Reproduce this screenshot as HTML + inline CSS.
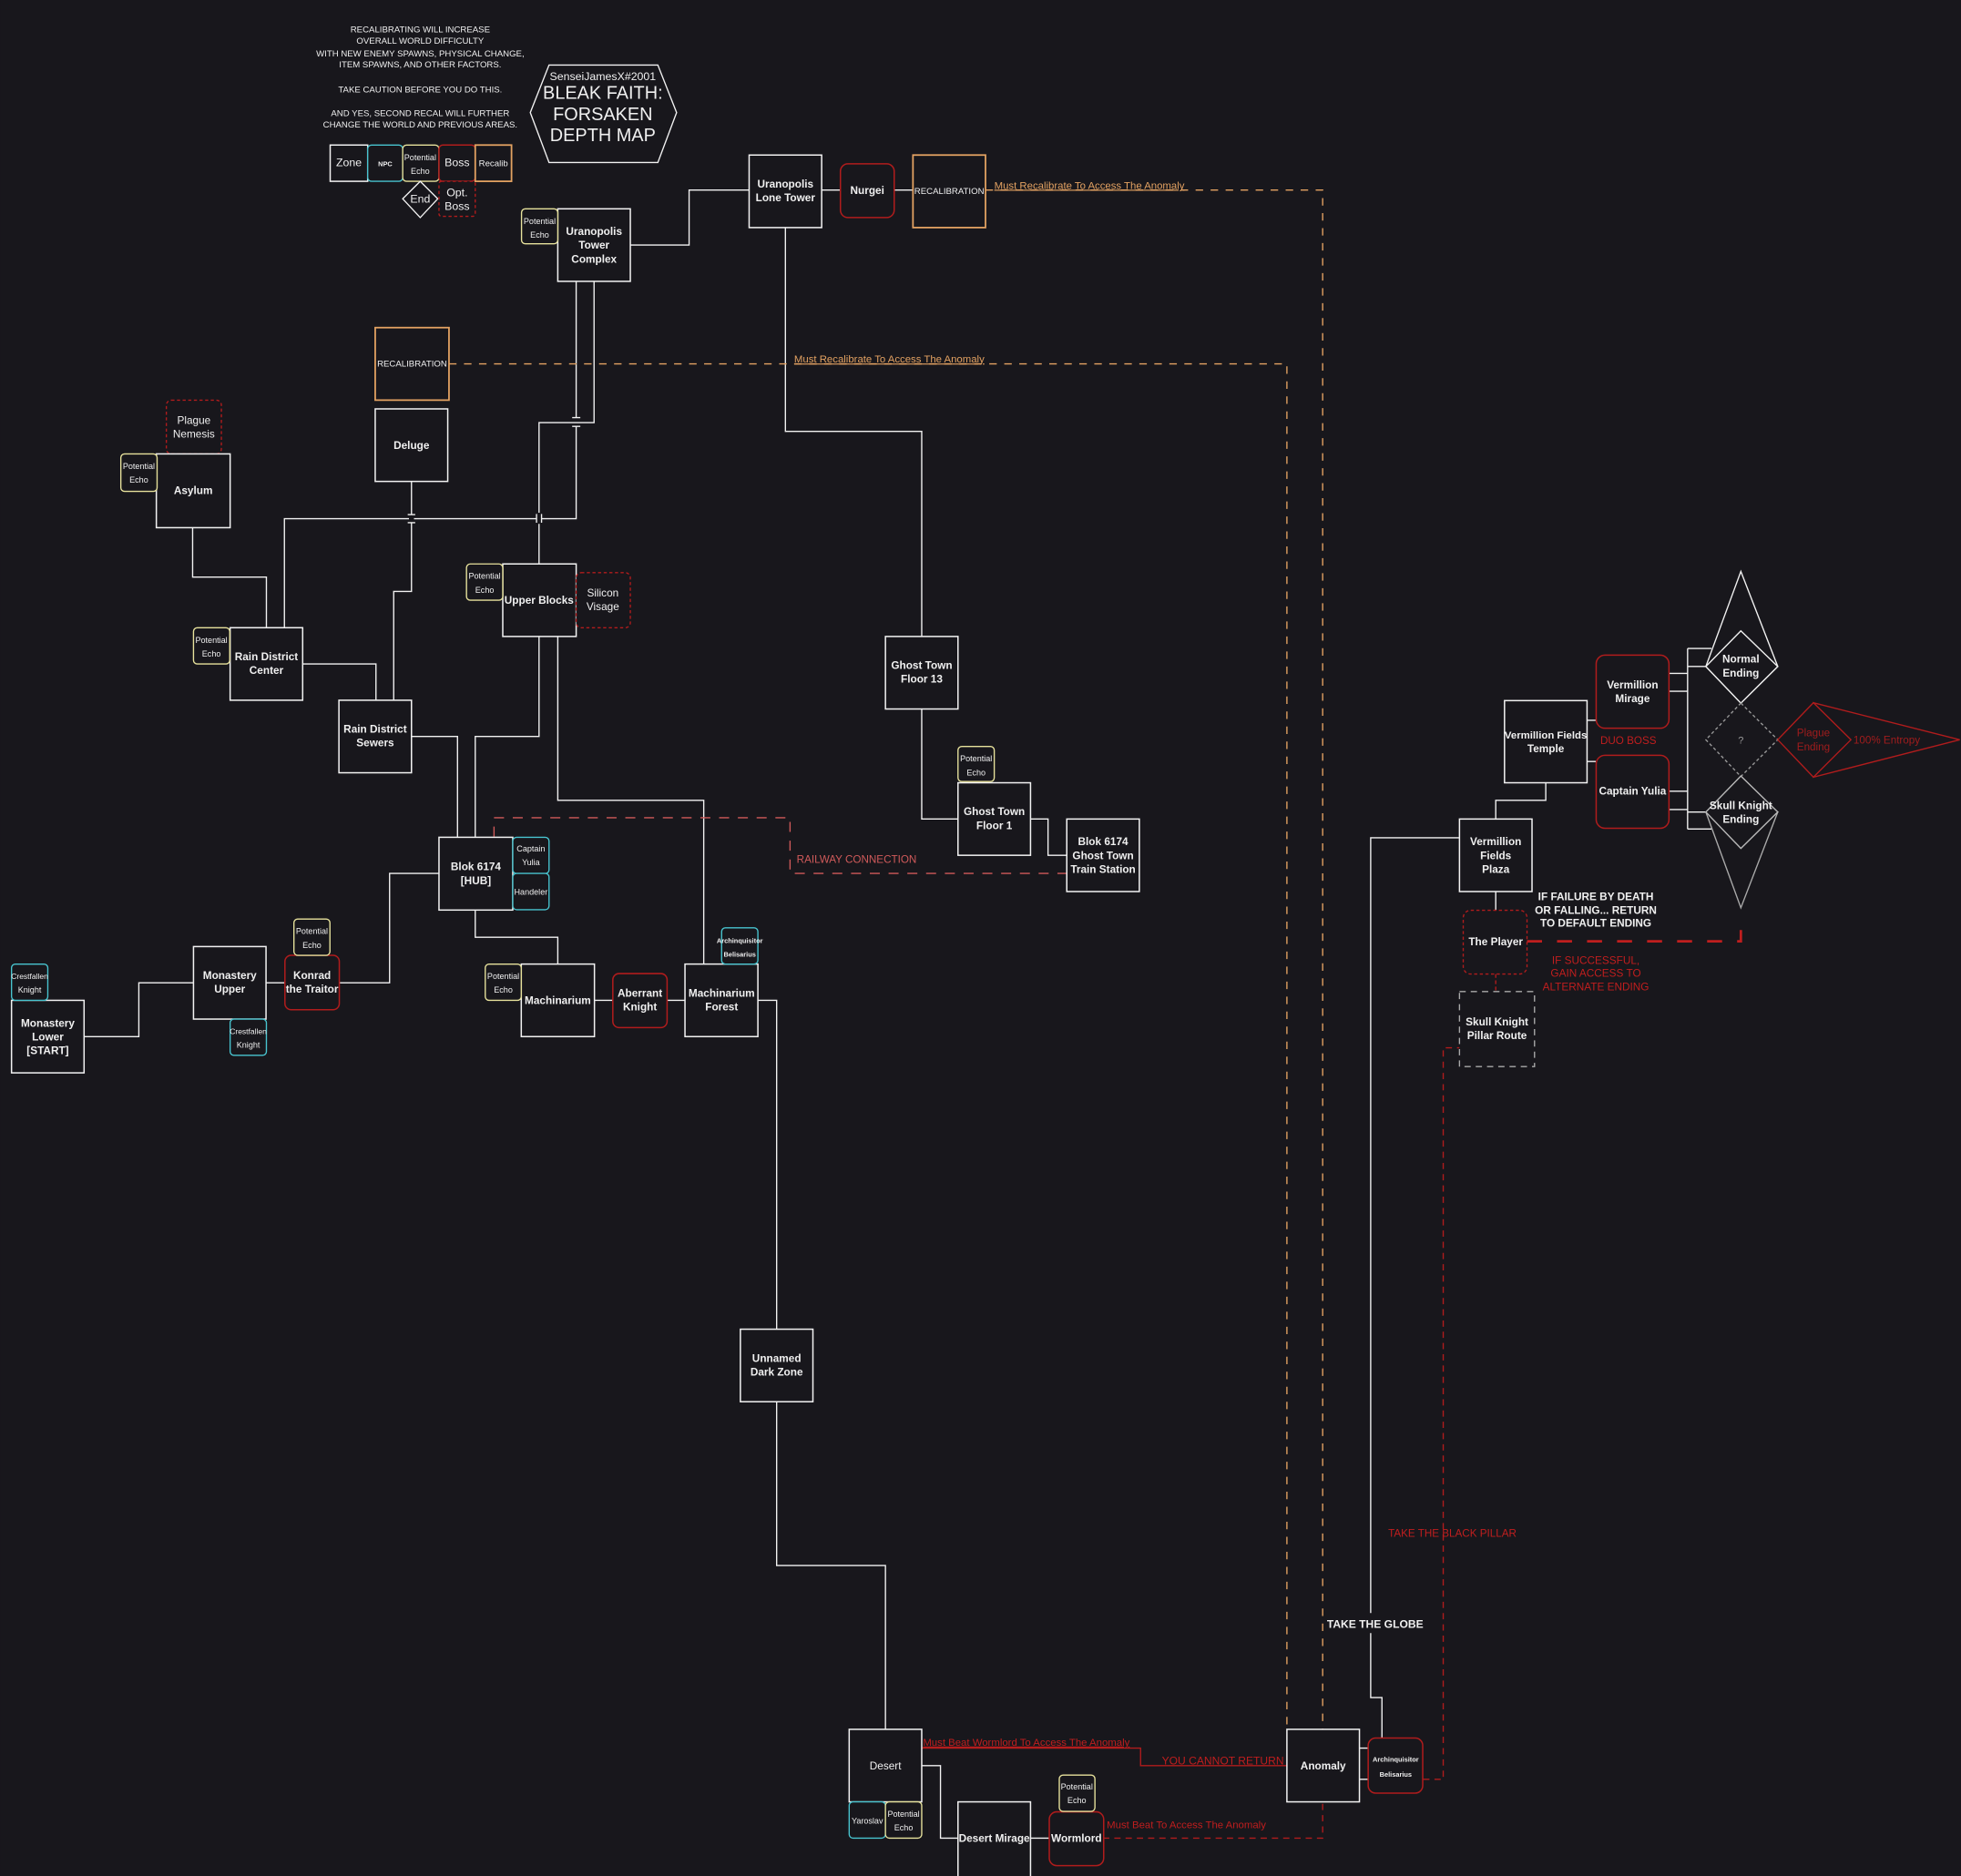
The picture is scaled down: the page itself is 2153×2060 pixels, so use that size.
<!DOCTYPE html>
<html><head><meta charset="utf-8"><style>
html,body{margin:0;padding:0;background:#18171c;overflow:hidden}
svg{display:block}
text{font-family:"Liberation Sans",Arial,sans-serif;fill:#f0f0f0}
.b{font-size:8.6px;font-weight:bold;text-anchor:middle}
.s{font-size:6.6px;text-anchor:middle}
.xs{font-size:5.4px;text-anchor:middle;font-weight:bold}
.z{fill:#18171c;stroke:#f2f2f2;stroke-width:1.1}
.e{fill:#18171c;stroke:#e7e29c;stroke-width:1}
.n{fill:#18171c;stroke:#48c4cf;stroke-width:1}
.r{fill:#18171c;stroke:#b01c1c;stroke-width:1.1}
.rd{fill:#18171c;stroke:#b01c1c;stroke-width:1;stroke-dasharray:2.5 2}
.o{fill:#18171c;stroke:#e3a262;stroke-width:1.3}
.l{fill:none;stroke:#f2f2f2;stroke-width:1}
.od{fill:none;stroke:#e3a262;stroke-width:1;stroke-dasharray:6 6}
.red{fill:none;stroke:#b01c1c;stroke-width:1}
.redd{fill:none;stroke:#b01c1c;stroke-width:1;stroke-dasharray:5 4}
.rail{fill:none;stroke:#d05a5a;stroke-width:1;stroke-dasharray:8 7}
</style></head><body>
<svg width="2153" height="2060" viewBox="0 0 1568 1500.3" xmlns="http://www.w3.org/2000/svg">
<rect width="1568" height="1501" fill="#18171c"/>

<!-- notes -->
<g style="font-size:7px;text-anchor:middle">
<text x="336" y="26">RECALIBRATING WILL INCREASE</text>
<text x="336" y="35">OVERALL WORLD DIFFICULTY</text>
<text x="336" y="45">WITH NEW ENEMY SPAWNS, PHYSICAL CHANGE,</text>
<text x="336" y="54">ITEM SPAWNS, AND OTHER FACTORS.</text>
<text x="336" y="74">TAKE CAUTION BEFORE YOU DO THIS.</text>
<text x="336" y="93">AND YES, SECOND RECAL WILL FURTHER</text>
<text x="336" y="102">CHANGE THE WORLD AND PREVIOUS AREAS.</text>
</g>

<!-- hexagon title -->
<polygon points="424,90 439,52 526,52 541,90 526,130 439,130" fill="#18171c" stroke="#f2f2f2" stroke-width="1"/>
<text x="482" y="64" style="font-size:9px;text-anchor:middle">SenseiJamesX#2001</text>
<text x="482" y="79" style="font-size:14.5px;text-anchor:middle">BLEAK FAITH:</text>
<text x="482" y="96" style="font-size:14.5px;text-anchor:middle">FORSAKEN</text>
<text x="482" y="113" style="font-size:14.5px;text-anchor:middle">DEPTH MAP</text>

<!-- legend -->
<rect class="z" x="264" y="116" width="30" height="29"/><text class="b" x="279" y="133" style="font-weight:normal;font-size:9px">Zone</text>
<rect class="n" x="294" y="116" width="28" height="29" rx="3"/><text class="xs" x="308" y="133">NPC</text>
<rect class="e" x="322" y="116" width="29" height="29" rx="3"/><text class="s" x="336" y="128">Potential</text><text class="s" x="336" y="139">Echo</text>
<rect class="r" x="351" y="116" width="29" height="29" rx="3"/><text class="b" x="365.5" y="133" style="font-weight:normal;font-size:9px">Boss</text>
<rect class="o" x="380" y="116" width="29" height="29"/><text class="s" x="394.5" y="133" style="font-size:7px">Recalib</text>
<polygon points="336,145 350,159 336,174 322,159" fill="#18171c" stroke="#f2f2f2" stroke-width="1"/><text x="336" y="162" style="font-size:9px;text-anchor:middle">End</text>
<rect class="rd" x="351" y="145" width="29" height="28" rx="2"/><text x="365.5" y="157" style="font-size:9px;text-anchor:middle">Opt.</text><text x="365.5" y="168" style="font-size:9px;text-anchor:middle">Boss</text>

<!-- connectors (white) -->
<path class="l" d="M504,196 H551 V152 H599"/>
<path class="l" d="M657,152 H672 M715,152 H730"/>
<path class="l" d="M628,182 V345 H737 V509"/>
<path class="l" d="M737,567 V655 H766"/>
<path class="l" d="M824,655 H838 V684 H853"/>
<!-- tower complex verticals -->
<path class="l" d="M460.7,225 V334 M460.7,341 V414.8 H433 M429,414.8 H331 M327,414.8 H227.4 V502"/>
<path class="l" d="M475,225 V338 H431 V410 M431,419 V451"/>
<path class="l" d="M457.5,334 H464 M457.5,341 H464 M429,411 V418 M433,411 V418 M326,411.5 H332 M326,418 H332"/>
<path class="l" d="M329,385 V411.5 M329,418 V473 H314.8 V560"/>
<path class="l" d="M154,422 V461.5 H213 V502"/>
<path class="l" d="M242,531 H300.6 V560"/>
<path class="l" d="M329,589 H365.8 V669.6"/>
<path class="l" d="M431,509 V589 H380 V669.6"/>
<path class="l" d="M446,509 V640 H562.7 V771"/>
<path class="l" d="M351,698.5 H311.5 V786 H271"/>
<path class="l" d="M380,728 V749.6 H446 V771"/>
<path class="l" d="M212.8,786 H227.8"/>
<path class="l" d="M67.3,829 H111 V786 H154.7"/>
<path class="l" d="M475.3,800 H490 M533.4,800 H547.7"/>
<path class="l" d="M606,800 H621 V1063"/>
<path class="l" d="M621,1121 V1252 H708 V1383"/>
<path class="l" d="M737,1412 H752 V1470 H766"/>
<path class="l" d="M824,1470 H839"/>
<path class="l" d="M1087,1398 H1094 M1087,1423 H1094"/>
<path class="l" d="M1105,1390 V1357.6 H1096 V1306 M1096,1290 V670 H1167"/>
<path class="l" d="M1196,655 V640 H1236 V626"/>
<path class="l" d="M1269,576 H1276 M1269,609 H1276"/>
<path class="l" d="M1334.5,538.5 H1349.4 M1334.5,552.8 H1349.4 M1334.5,632.8 H1349.4 M1334.5,647.4 H1349.4 M1349.4,518.6 V663 M1349.4,518.6 H1368.5 M1349.4,533 H1364 M1349.4,649.4 H1364 M1349.4,663 H1368.5"/>
<path class="l" d="M1196,713 V728"/>

<!-- orange dashed -->
<path class="od" d="M788,152 H1057.6 V1383"/>
<path class="od" d="M359,291 H1029 V1383"/>
<text x="795" y="151" style="font-size:8.3px;fill:#e3a262;text-decoration:underline">Must Recalibrate To Access The Anomaly</text>
<text x="635" y="290" style="font-size:8.3px;fill:#e3a262;text-decoration:underline">Must Recalibrate To Access The Anomaly</text>

<!-- railway -->
<path class="rail" d="M395,669 V654 H631.7 V698.5 H853"/>
<text x="637" y="690" style="font-size:8.5px;fill:#d05a5a">RAILWAY CONNECTION</text>

<!-- red lines bottom -->
<path class="red" d="M737,1398 H912 V1412 H1029"/>
<text x="738" y="1396" style="font-size:8.3px;fill:#c01e1e;text-decoration:underline">Must Beat Wormlord To Access The Anomaly</text>
<text x="929" y="1411" style="font-size:8.8px;fill:#c01e1e">YOU CANNOT RETURN</text>
<path class="redd" d="M882,1470 H1057.6 V1441"/>
<text x="885" y="1462" style="font-size:8.3px;fill:#c01e1e">Must Beat To Access The Anomaly</text>
<path class="redd" d="M1138,1423 H1154 V838 H1167"/>
<text x="1110" y="1229" style="font-size:8.5px;fill:#c01e1e">TAKE THE BLACK PILLAR</text>
<text x="1061" y="1302" style="font-size:8.8px;font-weight:bold">TAKE THE GLOBE</text>

<!-- boxes -->
<rect class="z" x="599" y="124" width="58" height="58"/><text class="b" x="628" y="150">Uranopolis</text><text class="b" x="628" y="161">Lone Tower</text>
<rect class="r" x="672" y="131" width="43" height="43" rx="6"/><text class="b" x="693.5" y="155">Nurgei</text>
<rect class="o" x="730" y="124" width="58" height="58"/><text x="759" y="155" style="font-size:7px;text-anchor:middle">RECALIBRATION</text>
<rect class="z" x="446" y="167" width="58" height="58"/><text class="b" x="475" y="188">Uranopolis</text><text class="b" x="475" y="199">Tower</text><text class="b" x="475" y="210">Complex</text>
<rect class="e" x="417" y="167" width="29" height="28" rx="3"/><text class="s" x="431.5" y="179">Potential</text><text class="s" x="431.5" y="190">Echo</text>

<rect class="o" x="300" y="262" width="59" height="58"/><text x="329.5" y="293" style="font-size:7px;text-anchor:middle">RECALIBRATION</text>
<rect class="z" x="300" y="327" width="58" height="58"/><text class="b" x="329" y="359">Deluge</text>

<rect class="rd" x="133" y="320" width="44" height="43" rx="4"/><text class="b" x="155" y="339" style="font-weight:normal">Plague</text><text class="b" x="155" y="350" style="font-weight:normal">Nemesis</text>
<rect class="z" x="125" y="363" width="59" height="59"/><text class="b" x="154.5" y="395">Asylum</text>
<rect class="e" x="96.6" y="363" width="29" height="30" rx="3"/><text class="s" x="111" y="375">Potential</text><text class="s" x="111" y="386">Echo</text>

<rect class="z" x="184" y="502" width="58" height="58"/><text class="b" x="213" y="528">Rain District</text><text class="b" x="213" y="539">Center</text>
<rect class="e" x="154.7" y="502" width="29" height="29" rx="3"/><text class="s" x="169" y="514">Potential</text><text class="s" x="169" y="525">Echo</text>

<rect class="z" x="271" y="560" width="58" height="58"/><text class="b" x="300" y="586">Rain District</text><text class="b" x="300" y="597">Sewers</text>

<rect class="z" x="402" y="451" width="58.7" height="58"/><text class="b" x="431" y="483">Upper Blocks</text>
<rect class="e" x="373" y="451" width="29" height="29" rx="3"/><text class="s" x="387.5" y="463">Potential</text><text class="s" x="387.5" y="474">Echo</text>
<rect class="rd" x="460.7" y="458" width="43.3" height="44" rx="4"/><text class="b" x="482" y="477" style="font-weight:normal">Silicon</text><text class="b" x="482" y="488" style="font-weight:normal">Visage</text>

<rect class="z" x="351" y="669.6" width="59" height="58.2"/><text class="b" x="380.5" y="696">Blok 6174</text><text class="b" x="380.5" y="707">[HUB]</text>
<rect class="n" x="410" y="669.6" width="29" height="29" rx="3"/><text class="s" x="424.5" y="681">Captain</text><text class="s" x="424.5" y="692">Yulia</text>
<rect class="n" x="410" y="698.5" width="29" height="29" rx="3"/><text class="s" x="424.5" y="715.5">Handeler</text>

<rect class="z" x="154.7" y="757" width="58" height="58"/><text class="b" x="183.7" y="783">Monastery</text><text class="b" x="183.7" y="794">Upper</text>
<rect class="n" x="184" y="815" width="29" height="29" rx="3"/><text class="s" x="198.5" y="827" style="font-size:6.2px">Crestfallen</text><text class="s" x="198.5" y="838">Knight</text>
<rect class="r" x="227.8" y="764" width="43.5" height="43.5" rx="5"/><text class="b" x="249.5" y="783">Konrad</text><text class="b" x="249.5" y="794">the Traitor</text>
<rect class="e" x="235" y="735" width="28.8" height="29" rx="3"/><text class="s" x="249.4" y="747">Potential</text><text class="s" x="249.4" y="758">Echo</text>

<rect class="z" x="9.2" y="800" width="58" height="58"/><text class="b" x="38.2" y="821">Monastery</text><text class="b" x="38.2" y="832">Lower</text><text class="b" x="38.2" y="843">[START]</text>
<rect class="n" x="9.2" y="771" width="29" height="29" rx="3"/><text class="s" x="23.7" y="783" style="font-size:6.2px">Crestfallen</text><text class="s" x="23.7" y="794">Knight</text>

<rect class="z" x="416.8" y="771" width="58.5" height="58"/><text class="b" x="446" y="803">Machinarium</text>
<rect class="e" x="388" y="771" width="28.8" height="29" rx="3"/><text class="s" x="402.4" y="783">Potential</text><text class="s" x="402.4" y="794">Echo</text>
<rect class="r" x="490" y="778.6" width="43.4" height="43.2" rx="5"/><text class="b" x="511.7" y="797">Aberrant</text><text class="b" x="511.7" y="808">Knight</text>
<rect class="z" x="547.7" y="771" width="58.3" height="58"/><text class="b" x="577" y="797">Machinarium</text><text class="b" x="577" y="808">Forest</text>
<rect class="n" x="577" y="742" width="29" height="29" rx="3"/><text class="xs" x="591.5" y="754">Archinquisitor</text><text class="xs" x="591.5" y="765">Belisarius</text>

<rect class="z" x="708" y="509" width="58" height="58"/><text class="b" x="737" y="535">Ghost Town</text><text class="b" x="737" y="546">Floor 13</text>
<rect class="z" x="766" y="626" width="58" height="58"/><text class="b" x="795" y="652">Ghost Town</text><text class="b" x="795" y="663">Floor 1</text>
<rect class="e" x="766" y="597" width="29" height="28" rx="3"/><text class="s" x="780.5" y="609">Potential</text><text class="s" x="780.5" y="620">Echo</text>
<rect class="z" x="853" y="655" width="58" height="58"/><text class="b" x="882" y="676">Blok 6174</text><text class="b" x="882" y="687">Ghost Town</text><text class="b" x="882" y="698">Train Station</text>

<rect class="z" x="592" y="1063" width="58" height="58"/><text class="b" x="621" y="1089">Unnamed</text><text class="b" x="621" y="1100">Dark Zone</text>

<rect class="z" x="679" y="1383" width="58" height="58"/><text class="b" x="708" y="1415" style="font-weight:normal">Desert</text>
<rect class="n" x="679" y="1441" width="29" height="29" rx="3"/><text class="s" x="693.5" y="1458.5">Yaroslav</text>
<rect class="e" x="708" y="1441" width="29" height="29" rx="3"/><text class="s" x="722.5" y="1453">Potential</text><text class="s" x="722.5" y="1464">Echo</text>
<rect class="z" x="766" y="1441" width="58" height="60"/><text class="b" x="795" y="1473">Desert Mirage</text>
<rect class="r" x="839" y="1449" width="43.5" height="43" rx="6"/><text class="b" x="860.7" y="1473">Wormlord</text>
<rect class="e" x="847" y="1419.6" width="28.5" height="29" rx="3"/><text class="s" x="861" y="1431">Potential</text><text class="s" x="861" y="1442">Echo</text>
<rect class="z" x="1029" y="1383" width="58" height="58"/><text class="b" x="1058" y="1415">Anomaly</text>
<rect class="r" x="1094" y="1390" width="43.6" height="44" rx="6"/><text class="xs" x="1116" y="1409">Archinquisitor</text><text class="xs" x="1116" y="1421">Belisarius</text>

<!-- right side -->
<rect class="z" x="1167" y="655" width="58" height="58"/><text class="b" x="1196" y="676">Vermillion</text><text class="b" x="1196" y="687">Fields</text><text class="b" x="1196" y="698">Plaza</text>
<rect class="z" x="1203" y="560.3" width="66" height="65.7"/><text class="b" x="1236" y="590.5" style="font-size:8.3px">Vermillion Fields</text><text class="b" x="1236" y="601.5">Temple</text>
<rect class="r" x="1276.3" y="523.9" width="58.2" height="58.5" rx="7"/><text class="b" x="1305.4" y="550.5">Vermillion</text><text class="b" x="1305.4" y="561.5">Mirage</text>
<text x="1302" y="595" style="font-size:8.5px;fill:#c01e1e;text-anchor:middle">DUO BOSS</text>
<rect class="r" x="1276.3" y="604" width="58.2" height="58.4" rx="7"/><text class="b" x="1305.4" y="635.5">Captain Yulia</text>

<polygon points="1392,457 1421.5,533 1392,562.3 1364,533" fill="none" stroke="#f2f2f2" stroke-width="1"/>
<polygon points="1392,504.5 1421.5,533 1392,562.3 1364,533" fill="#18171c" stroke="#f2f2f2" stroke-width="1"/>
<text class="b" x="1392" y="530">Normal</text><text class="b" x="1392" y="541">Ending</text>
<polygon points="1392,562.3 1421.5,591.6 1392,621 1364,591.6" fill="none" stroke="#999" stroke-width="1" stroke-dasharray="2.5 2"/>
<text x="1392" y="594.5" style="font-size:8px;fill:#999;text-anchor:middle">?</text>
<polygon points="1364,649.4 1421.5,649.4 1392,726" fill="none" stroke="#aaa" stroke-width="1"/>
<polygon points="1392,620.6 1421.5,649.4 1392,678.5 1364,649.4" fill="#18171c" stroke="#bbb" stroke-width="1"/>
<text class="b" x="1392" y="647">Skull Knight</text><text class="b" x="1392" y="658">Ending</text>
<polygon points="1450,562 1567,591.6 1450,621.5" fill="none" stroke="#b01c1c" stroke-width="1"/>
<polygon points="1450,562 1480,591.6 1450,621.5 1421.5,591.6" fill="#18171c" stroke="#b01c1c" stroke-width="1"/>
<text x="1450" y="589" style="font-size:8.5px;fill:#a01c1c;text-anchor:middle">Plague</text><text x="1450" y="600" style="font-size:8.5px;fill:#a01c1c;text-anchor:middle">Ending</text>
<text x="1482" y="594.5" style="font-size:8.5px;fill:#a01c1c">100% Entropy</text>

<rect class="rd" x="1170" y="728" width="51" height="51" rx="6"/><text class="b" x="1196" y="756">The Player</text>
<path d="M1221,752.8 H1392 V732" fill="none" stroke="#c01e1e" stroke-width="2" stroke-dasharray="12 12"/>
<g style="font-size:8.6px;font-weight:bold;text-anchor:middle">
<text x="1276" y="720">IF FAILURE BY DEATH</text>
<text x="1276" y="731">OR FALLING... RETURN</text>
<text x="1276" y="741">TO DEFAULT ENDING</text>
</g>
<g style="font-size:8.6px;text-anchor:middle;fill:#c01e1e">
<text x="1276" y="771" style="fill:#c01e1e">IF SUCCESSFUL,</text>
<text x="1276" y="781" style="fill:#c01e1e">GAIN ACCESS TO</text>
<text x="1276" y="792" style="fill:#c01e1e">ALTERNATE ENDING</text>
</g>
<path d="M1196,779 V793" fill="none" stroke="#b01c1c" stroke-dasharray="3 2"/>
<rect x="1167" y="793" width="60" height="60" fill="#18171c" stroke="#aaa" stroke-width="1" stroke-dasharray="5 4"/>
<text class="b" x="1197" y="820">Skull Knight</text><text class="b" x="1197" y="831">Pillar Route</text>
</svg>
</body></html>
